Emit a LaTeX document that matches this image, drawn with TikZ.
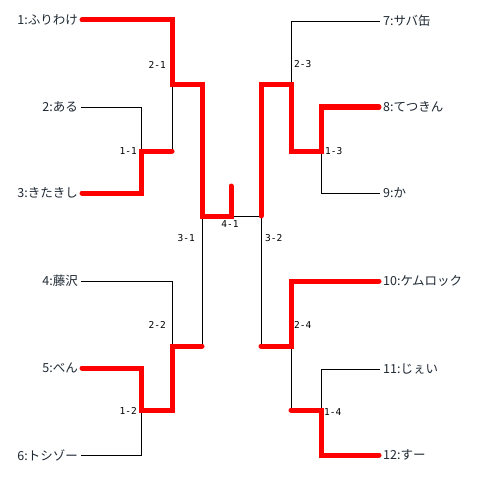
\documentclass[tikz,border=0pt]{standalone}
\usepackage{fontspec}
\newfontfamily\jpfont{Noto Sans CJK JP}
\newfontfamily\lblfont{DejaVu Sans Mono}
\definecolor{txt}{rgb}{0.12,0.16,0.2}
\definecolor{win}{RGB}{255,0,0}
\tikzset{
  loseline/.style={draw=black, line width=0.9pt},
  winline/.style={draw=win, line width=5pt, line cap=round, line join=miter},
  pname/.style={font=\jpfont\fontsize{12.5}{14}\selectfont, text=txt, inner sep=0pt},
  mlabel/.style={font=\lblfont\fontsize{9.5}{11}\selectfont, text=black, inner sep=0pt},
}
\begin{document}
\begin{tikzpicture}[x=1pt,y=-1pt]
\useasboundingbox[fill=white] (0,0) rectangle (481,476);
% player names (left)
\node[pname, anchor=east] (n1) at (78,20) {1:ふりわけ};
\node[pname, anchor=east] (n2) at (78,107) {2:ある};
\node[pname, anchor=east] (n3) at (78,193) {3:きたきし};
\node[pname, anchor=east] (n4) at (78,281) {4:藤沢};
\node[pname, anchor=east] (n5) at (78,368) {5:べん};
\node[pname, anchor=east] (n6) at (78,455) {6:トシゾー};
% player names (right)
\node[pname, anchor=west] (n7) at (383,21) {7:サバ缶};
\node[pname, anchor=west] (n8) at (383,107) {8:てつきん};
\node[pname, anchor=west] (n9) at (383,193) {9:か};
\node[pname, anchor=west] (n10) at (383,281) {10:ケムロック};
\node[pname, anchor=west] (n11) at (383,369) {11:じぇい};
\node[pname, anchor=west] (n12) at (383,455) {12:すー};
% line end coordinates
\coordinate (e1) at (82,20);
\coordinate (e2) at (81,107);
\coordinate (e3) at (82,193);
\coordinate (e4) at (81,281);
\coordinate (e5) at (82,368);
\coordinate (e6) at (81,455);
\coordinate (e7) at (380,21);
\coordinate (e8) at (379,107);
\coordinate (e9) at (380,193);
\coordinate (e10) at (379,281);
\coordinate (e11) at (380,369);
\coordinate (e12) at (379,455);
% junctions
\coordinate (j11) at (141,151);
\coordinate (j12) at (141,410);
\coordinate (j21) at (172,85);
\coordinate (j22) at (172,346);
\coordinate (j31) at (202,216);
\coordinate (j41) at (231,216);
\coordinate (j41t) at (231,186);
\coordinate (j32) at (261,216);
\coordinate (j23) at (291,85);
\coordinate (j24) at (291,346);
\coordinate (j13) at (321,151);
\coordinate (j14) at (321,410);
% thin (losing) lines
\draw[loseline] (e2) -| (j11);
\draw[loseline] (j21) -- (172,151);
\draw[loseline] (e4) -| (j22);
\draw[loseline] (e6) -| (j12);
\draw[loseline] (j31) -- (202,346);
\draw[loseline] (j41) -- (j32);
\draw[loseline] (j32) -- (261,346);
\draw[loseline] (e7) -| (j23);
\draw[loseline] (e9) -| (j13);
\draw[loseline] (j24) -- (291,410);
\draw[loseline] (e11) -| (j14);
% winning lines
\draw[winline] (e1) -| (j21) -- (202,85) |- (j41) -- (j41t);
\draw[winline] (e3) -| (j11) -- (172,151);
\draw[winline] (e5) -| (j12) -- (172,410) |- (202,346);
\draw[winline] (e8) -| (j13) -- (291,151) |- (261,85) -- (j32);
\draw[winline] (e10) -| (j24) -- (261,346);
\draw[winline] (291,410) -- (j14) |- (e12);
% match labels
\node[mlabel, anchor=east] (m21) at (166,65) {2-1};
\node[mlabel, anchor=east] (m11) at (137,151) {1-1};
\node[mlabel, anchor=east] (m22) at (166,325) {2-2};
\node[mlabel, anchor=east] (m12) at (137,411) {1-2};
\node[mlabel, anchor=east] (m31) at (195,238) {3-1};
\node[mlabel] (m41) at (230,224) {4-1};
\node[mlabel, anchor=west] (m32) at (265,238) {3-2};
\node[mlabel, anchor=west] (m23) at (294,64) {2-3};
\node[mlabel, anchor=west] (m13) at (325,151) {1-3};
\node[mlabel, anchor=west] (m24) at (294,325) {2-4};
\node[mlabel, anchor=west] (m14) at (324,412) {1-4};
\end{tikzpicture}
\end{document}
